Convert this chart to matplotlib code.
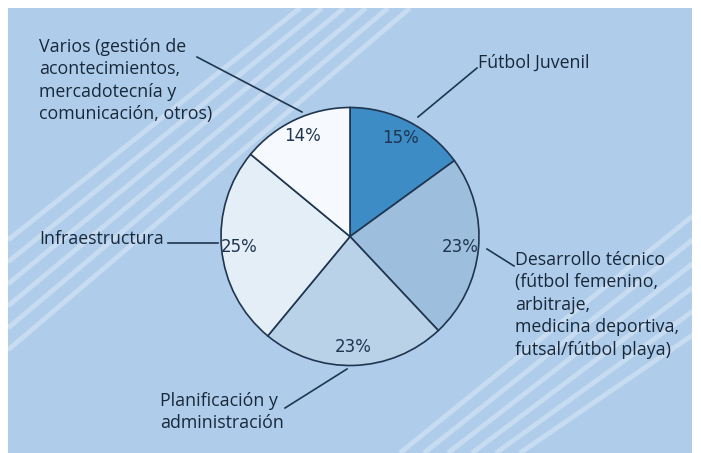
import numpy as np
import matplotlib.pyplot as plt
from matplotlib.patches import Rectangle

# datos del grafico (porcentaje del presupuesto)
categorias = ["Fútbol Juvenil",
              "Desarrollo técnico\n(fútbol femenino,\narbitraje,\nmedicina deportiva,\nfutsal/fútbol playa)",
              "Planificación y\nadministración",
              "Infraestructura",
              "Varios (gestión de\nacontecimientos,\nmercadotecnía y\ncomunicación, otros)"]
valores = [15, 23, 23, 25, 14]
colores = ["#3d8cc6", "#9dbfdd", "#b9d2e8", "#e3eef7", "#f6f9fd"]

W, H = 701, 453
fondo = "#afcdea"
borde = "#1f3550"
texto = "#18283a"

fig = plt.figure(figsize=(W / 100, H / 100), dpi=100, facecolor="white")
ax = fig.add_axes([0, 0, 1, 1])

def py(y):
    # coordenada de pixel (desde arriba) a datos
    return H - y

panel = Rectangle((8, 0), 684, H - 8, facecolor=fondo, edgecolor="none", zorder=0)
ax.add_patch(panel)

# rayas decorativas del fondo
for k in range(6):
    off = k * 22
    ln, = ax.plot([8, 300 + off], [py(240 + off), py(8)], color="white",
                  lw=3.5, alpha=0.3, zorder=1, solid_capstyle="butt")
    ln.set_clip_path(panel)
for k in range(6):
    off = k * 24
    ln, = ax.plot([400 + off, 700], [py(453), py(210 + off)], color="white",
                  lw=3.5, alpha=0.3, zorder=1, solid_capstyle="butt")
    ln.set_clip_path(panel)

cx, cy, r = 350, py(236.5), 129
wedges, _, autotexts = ax.pie(
    valores, colors=colores, startangle=90, counterclock=False,
    center=(cx, cy), radius=r, frame=True,
    autopct=lambda p: f"{p:.0f}%", pctdistance=0.86,
    wedgeprops=dict(edgecolor=borde, linewidth=1.2),
    textprops=dict(color="#1f3550", fontsize=12,
                   family=["Liberation Sans Narrow", "DejaVu Sans"]))
for w in wedges:
    w.set_zorder(2)
ax.set_xlim(0, W)
ax.set_ylim(0, H)
ax.axis("off")

fuente = dict(color=texto, fontsize=12.8, family=["Open Sans", "DejaVu Sans"],
              linespacing=1.32)

def linea(x0, y0, x1, y1):
    ax.plot([x0, x1], [py(y0), py(y1)], color=borde, lw=1.2, zorder=3)

# Futbol Juvenil
ax.text(478, py(63), categorias[0], ha="left", va="center", **fuente)
linea(477, 68, 418, 117)
# Desarrollo tecnico
ax.text(515, py(251), categorias[1], ha="left", va="top", **fuente)
linea(487, 249, 514, 266)
# Planificacion
ax.text(160, py(392), categorias[2], ha="left", va="top", **fuente)
linea(347, 369, 285, 408)
# Infraestructura
ax.text(39, py(239), categorias[3], ha="left", va="center", **fuente)
linea(168, 243, 218, 243)
# Varios
ax.text(39, py(38), categorias[4], ha="left", va="top", **fuente)
linea(197, 57, 302, 112)

fig.savefig("out.png", dpi=100, facecolor="white")
